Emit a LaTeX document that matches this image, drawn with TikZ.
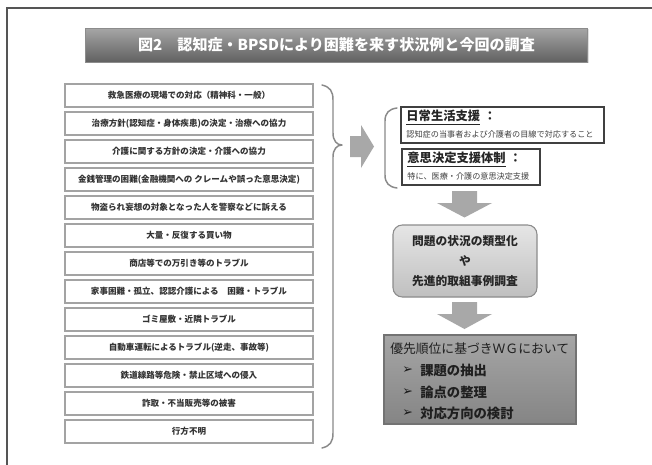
\documentclass[tikz,border=0pt]{standalone}
\usepackage{fontspec}
\setmainfont{Noto Sans CJK JP}
\newfontfamily\symfont{DejaVu Sans}
\usetikzlibrary{shadows}
\definecolor{frame}{HTML}{555555}
\definecolor{itemborder}{HTML}{A3A3A3}
\definecolor{itemtext}{HTML}{333333}
\definecolor{arrowgray}{HTML}{A8A8A8}
\definecolor{bracegray}{HTML}{8A8A8A}
\definecolor{boxdark}{HTML}{404040}
\tikzset{
  itembox/.style={draw=itemborder, line width=1.1pt, minimum width=186pt, minimum height=17.25pt, inner sep=0pt,
    text=itemtext, font=\fontsize{6.4}{8}\selectfont\bfseries},
  titlebar/.style={minimum width=377pt, minimum height=25.5pt, inner sep=0pt, top color=black!35, bottom color=black!62,
    draw=black!45, line width=0.6pt, text=white, font=\fontsize{11.3}{14}\selectfont\bfseries,
    drop shadow={shadow xshift=0.8pt, shadow yshift=-0.8pt, opacity=0.25}},
  supbox/.style={draw=boxdark, line width=1.2pt, inner sep=0pt, fill=white},
  suphead/.style={anchor=north west, inner sep=0pt, text=black!85, font=\fontsize{9.2}{11}\selectfont\bfseries},
  supsmall/.style={anchor=north west, inner sep=0pt, text=black!75, font=\fontsize{6.1}{7}\selectfont},
  blockarrow/.style={fill=arrowgray, draw=none},
  bracestyle/.style={draw=bracegray, line width=1.1pt, line join=round, line cap=round},
  survey/.style={rounded corners=7pt, draw=black!45, line width=0.8pt, top color=black!10, bottom color=black!25,
    minimum width=108pt, minimum height=54pt, inner sep=0pt, align=center, text=black!85,
    font=\fontsize{8.8}{15}\selectfont\bfseries},
  wgbox/.style={draw=black!55, line width=0.8pt, top color=black!35, bottom color=black!48,
    minimum width=144pt, minimum height=66.75pt, inner sep=0pt,
    drop shadow={shadow xshift=1pt, shadow yshift=-1pt, opacity=0.3}},
  wgtext/.style={anchor=west, inner sep=0pt, text=black!88},
  wgbullet/.style={anchor=west, inner sep=0pt, text=black!90, font=\fontsize{9.5}{10}\selectfont\symfont}
}
\begin{document}
\begin{tikzpicture}[x=0.75pt, y=-0.75pt]
\useasboundingbox (0,0) rectangle (652,464);
\fill[white] (0,0) rectangle (652,464);
% outer frame
\draw[frame, line width=1.3pt] (7,470) -- (7,8) -- (660,8);
% title
\node[titlebar] (title) at (336.5,45) {図2\hspace{1em}認知症・BPSDにより困難を来す状況例と今回の調査};
% items
\node[itembox] (it0) at (189,95.5) {救急医療の現場での対応（精神科・一般）};
\node[itembox] (it1) at (189,123.5) {治療方針(認知症・身体疾患)の決定・治療への協力};
\node[itembox] (it2) at (189,151.5) {介護に関する方針の決定・介護への協力};
\node[itembox] (it3) at (189,179.5) {金銭管理の困難(金融機関への クレームや誤った意思決定)};
\node[itembox] (it4) at (189,207.5) {物盗られ妄想の対象となった人を警察などに訴える};
\node[itembox] (it5) at (189,235.5) {大量・反復する買い物};
\node[itembox] (it6) at (189,263.5) {商店等での万引き等のトラブル};
\node[itembox] (it7) at (189,291.5) {家事困難・孤立、認認介護による\hspace{1em}困難・トラブル};
\node[itembox] (it8) at (189,319.5) {ゴミ屋敷・近隣トラブル};
\node[itembox] (it9) at (189,347.5) {自動車運転によるトラブル(逆走、事故等)};
\node[itembox] (it10) at (189,375.5) {鉄道線路等危険・禁止区域への侵入};
\node[itembox] (it11) at (189,403.5) {詐取・不当販売等の被害};
\node[itembox] (it12) at (189,431.5) {行方不明};
% right brace
\draw[bracestyle] (322,85) .. controls (330,87) and (333,91) .. (333,100)
  -- (333,133) .. controls (333,141) and (337,145) .. (342,145)
  .. controls (337,145) and (333,149) .. (333,157)
  -- (333,433) .. controls (333,442) and (330,446) .. (322,448);
% right arrow
\fill[blockarrow] (350,136) -- (361,136) -- (361,125) -- (374,146.5) -- (361,168) -- (361,157) -- (350,157) -- cycle;
% left bracket for support boxes
\draw[bracestyle] (397,108) .. controls (389,109) and (385,113) .. (385,121)
  -- (385,175) .. controls (385,183) and (389,187) .. (397,188);
% support boxes
\node[supbox, minimum width=152.25pt, minimum height=27pt] (daily) at (502.5,125) {};
\node[suphead] (dailyh) at ([xshift=4.5pt, yshift=-3pt]daily.north west) {\underline{日常生活支援}\hspace{0.3em}：};
\node[supsmall] (dailys) at ([xshift=4.5pt, yshift=-18.5pt]daily.north west) {認知症の当事者および介護者の目線で対応すること};
\node[supbox, minimum width=103.5pt, minimum height=27pt] (decide) at (471,167) {};
\node[suphead] (decideh) at ([xshift=4.5pt, yshift=-3pt]decide.north west) {\underline{意思決定支援体制}\hspace{0.3em}：};
\node[supsmall] (decides) at ([xshift=4.5pt, yshift=-18.5pt]decide.north west) {特に、医療・介護の意思決定支援};
% down arrow 1
\fill[blockarrow] (452,191) -- (477,191) -- (477,203) -- (492,203) -- (464.5,217.5) -- (437,203) -- (452,203) -- cycle;
% survey box
\node[survey] (survey) at (465,261) {問題の状況の類型化\\や\\先進的取組事例調査};
% down arrow 2
\fill[blockarrow] (452,302) -- (477,302) -- (477,314) -- (492,314) -- (464.5,329) -- (437,314) -- (452,314) -- cycle;
% WG box
\node[wgbox] (wg) at (480,379.5) {};
\node[wgtext, font=\fontsize{9.6}{11}\selectfont] (wg0) at (390,348.5) {優先順位に基づきＷＧにおいて};
\node[wgbullet] (b1) at (402,370.5) {➢};
\node[wgtext, font=\fontsize{10}{12}\selectfont\bfseries] (wg1) at (420,370.5) {課題の抽出};
\node[wgbullet] (b2) at (402,392) {➢};
\node[wgtext, font=\fontsize{10}{12}\selectfont\bfseries] (wg2) at (420,392) {論点の整理};
\node[wgbullet] (b3) at (402,413.5) {➢};
\node[wgtext, font=\fontsize{10}{12}\selectfont\bfseries] (wg3) at (420,413.5) {対応方向の検討};
\end{tikzpicture}
\end{document}
